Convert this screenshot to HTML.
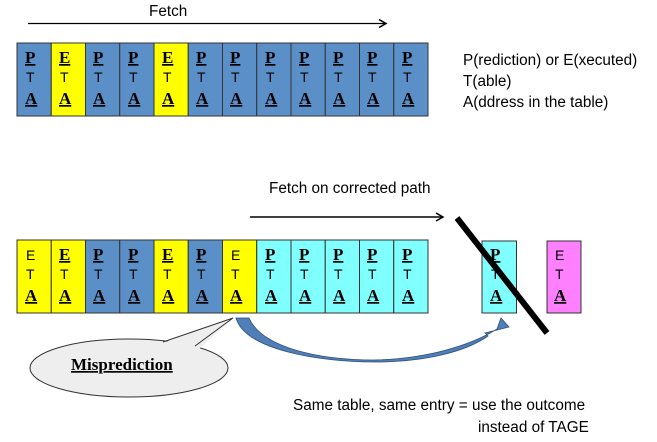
<!DOCTYPE html>
<html><head><meta charset="utf-8"><style>
html,body{margin:0;padding:0;background:#fff;width:657px;height:442px;overflow:hidden}
svg{display:block}
.s{font-family:"Liberation Sans",sans-serif;font-size:15.3px;fill:#000}
.b{font-family:"Liberation Serif",serif;font-weight:bold;font-size:17px;text-decoration:underline;fill:#000}
.t{font-family:"Liberation Sans",sans-serif;font-size:14px;fill:#000}
</style></head><body>
<svg width="657" height="442" viewBox="0 0 657 442" xmlns="http://www.w3.org/2000/svg">
<defs>
<marker id="ah" markerWidth="10" markerHeight="10" refX="8" refY="5" orient="auto" markerUnits="userSpaceOnUse">
<path d="M1,1 L8,5 L1,9" fill="none" stroke="#000" stroke-width="1.5"/></marker>
</defs>
<text class="s" x="149" y="16">Fetch</text>
<line x1="28" y1="23.5" x2="386" y2="23.5" stroke="#000" stroke-width="1.3" marker-end="url(#ah)"/>

<g stroke="#333" stroke-width="1">
<rect x="17" y="43" width="34.25" height="73" fill="#5b8fc8"/>
<rect x="51.25" y="43" width="34.25" height="73" fill="#ffff00"/>
<rect x="85.5" y="43" width="34.25" height="73" fill="#5b8fc8"/>
<rect x="119.75" y="43" width="34.25" height="73" fill="#5b8fc8"/>
<rect x="154" y="43" width="34.25" height="73" fill="#ffff00"/>
<rect x="188.25" y="43" width="34.25" height="73" fill="#5b8fc8"/>
<rect x="222.5" y="43" width="34.25" height="73" fill="#5b8fc8"/>
<rect x="256.75" y="43" width="34.25" height="73" fill="#5b8fc8"/>
<rect x="291" y="43" width="34.25" height="73" fill="#5b8fc8"/>
<rect x="325.25" y="43" width="34.25" height="73" fill="#5b8fc8"/>
<rect x="359.5" y="43" width="34.25" height="73" fill="#5b8fc8"/>
<rect x="393.75" y="43" width="34.25" height="73" fill="#5b8fc8"/>
</g>
<g>
<text class="b" x="25" y="63">P</text><text class="t" x="26" y="82">T</text><text class="b" x="25" y="104">A</text>
<text class="b" x="59" y="63">E</text><text class="t" x="60" y="82">T</text><text class="b" x="59" y="104">A</text>
<text class="b" x="93" y="63">P</text><text class="t" x="94" y="82">T</text><text class="b" x="93" y="104">A</text>
<text class="b" x="128" y="63">P</text><text class="t" x="129" y="82">T</text><text class="b" x="128" y="104">A</text>
<text class="b" x="162" y="63">E</text><text class="t" x="163" y="82">T</text><text class="b" x="162" y="104">A</text>
<text class="b" x="196" y="63">P</text><text class="t" x="197" y="82">T</text><text class="b" x="196" y="104">A</text>
<text class="b" x="230" y="63">P</text><text class="t" x="231" y="82">T</text><text class="b" x="230" y="104">A</text>
<text class="b" x="265" y="63">P</text><text class="t" x="266" y="82">T</text><text class="b" x="265" y="104">A</text>
<text class="b" x="299" y="63">P</text><text class="t" x="300" y="82">T</text><text class="b" x="299" y="104">A</text>
<text class="b" x="333" y="63">P</text><text class="t" x="334" y="82">T</text><text class="b" x="333" y="104">A</text>
<text class="b" x="367" y="63">P</text><text class="t" x="368" y="82">T</text><text class="b" x="367" y="104">A</text>
<text class="b" x="402" y="63">P</text><text class="t" x="403" y="82">T</text><text class="b" x="402" y="104">A</text>
</g>
<text class="s" x="463" y="65">P(rediction) or E(xecuted)</text>
<text class="s" x="463" y="86">T(able)</text>
<text class="s" x="463" y="107">A(ddress in the table)</text>

<text class="s" x="269" y="193">Fetch on corrected path</text>
<line x1="250" y1="217" x2="443" y2="217" stroke="#000" stroke-width="1.5" marker-end="url(#ah)"/>

<g stroke="#333" stroke-width="1">
<rect x="17" y="240" width="34.25" height="73" fill="#ffff00"/>
<rect x="51.25" y="240" width="34.25" height="73" fill="#ffff00"/>
<rect x="85.5" y="240" width="34.25" height="73" fill="#5b8fc8"/>
<rect x="119.75" y="240" width="34.25" height="73" fill="#5b8fc8"/>
<rect x="154" y="240" width="34.25" height="73" fill="#ffff00"/>
<rect x="188.25" y="240" width="34.25" height="73" fill="#5b8fc8"/>
<rect x="222.5" y="240" width="34.25" height="73" fill="#ffff00"/>
<rect x="256.75" y="240" width="34.25" height="73" fill="#80ffff"/>
<rect x="291" y="240" width="34.25" height="73" fill="#80ffff"/>
<rect x="325.25" y="240" width="34.25" height="73" fill="#80ffff"/>
<rect x="359.5" y="240" width="34.25" height="73" fill="#80ffff"/>
<rect x="393.75" y="240" width="34.25" height="73" fill="#80ffff"/>
<rect x="482" y="241" width="34.5" height="72" fill="#80ffff"/>
<rect x="547" y="241" width="34" height="72" fill="#ff80ff"/>
</g>
<g>
<text class="t" x="26" y="260">E</text><text class="t" x="26" y="279">T</text><text class="b" x="25" y="301">A</text>
<text class="b" x="59" y="260">E</text><text class="t" x="60" y="279">T</text><text class="b" x="59" y="301">A</text>
<text class="b" x="93" y="260">P</text><text class="t" x="94" y="279">T</text><text class="b" x="93" y="301">A</text>
<text class="b" x="128" y="260">P</text><text class="t" x="129" y="279">T</text><text class="b" x="128" y="301">A</text>
<text class="b" x="162" y="260">E</text><text class="t" x="163" y="279">T</text><text class="b" x="162" y="301">A</text>
<text class="b" x="196" y="260">P</text><text class="t" x="197" y="279">T</text><text class="b" x="196" y="301">A</text>
<text class="t" x="231" y="260">E</text><text class="t" x="231" y="279">T</text><text class="b" x="230" y="301">A</text>
<text class="b" x="265" y="260">P</text><text class="t" x="266" y="279">T</text><text class="b" x="265" y="301">A</text>
<text class="b" x="299" y="260">P</text><text class="t" x="300" y="279">T</text><text class="b" x="299" y="301">A</text>
<text class="b" x="333" y="260">P</text><text class="t" x="334" y="279">T</text><text class="b" x="333" y="301">A</text>
<text class="b" x="367" y="260">P</text><text class="t" x="368" y="279">T</text><text class="b" x="367" y="301">A</text>
<text class="b" x="402" y="260">P</text><text class="t" x="403" y="279">T</text><text class="b" x="402" y="301">A</text>
<text class="b" x="490" y="260">P</text><text class="t" x="491" y="279">T</text><text class="b" x="490" y="301">A</text>
<text class="t" x="555" y="260">E</text><text class="t" x="555" y="279">T</text><text class="b" x="554" y="301">A</text>
</g>
<line x1="457" y1="218" x2="547" y2="333" stroke="#000" stroke-width="6"/>

<path d="M236,318 C245,350 320,362 374,362 C425,362 465,352 488,336 L485,333 L509,327 L501,318 L497,329 C470,346 425,359 374,360 C320,360 262,348 249,318 Z" fill="#4f7fb6" stroke="#2f4f7f" stroke-width="0.8"/>

<ellipse cx="129" cy="368" rx="99" ry="29" fill="#eeeeee" stroke="#333" stroke-width="1"/>
<path d="M233,318 L160,344 L198,350 Z" fill="#eeeeee"/>
<path d="M163,342 L233,318 L195,346" fill="none" stroke="#333" stroke-width="1"/>
<text x="71" y="370" style="font-family:'Liberation Serif',serif;font-weight:bold;font-size:17px;text-decoration:underline">Misprediction</text>

<text class="s" x="293" y="410">Same table, same entry = use the outcome</text>
<text class="s" x="478" y="432">instead of TAGE</text>
</svg>
</body></html>
